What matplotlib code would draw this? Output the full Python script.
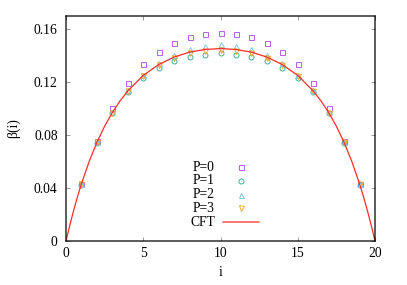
import matplotlib
matplotlib.use("Agg")
import matplotlib.pyplot as plt

# ---- data ----
site = list(range(1, 20))
p0 = [0.0430, 0.0755, 0.1006, 0.1195, 0.1334, 0.1429, 0.1497, 0.1538, 0.1562, 0.1570,
      0.1562, 0.1538, 0.1497, 0.1429, 0.1334, 0.1195, 0.1006, 0.0755, 0.0430]
p1 = [0.0425, 0.0742, 0.0964, 0.1127, 0.1233, 0.1308, 0.1361, 0.1391, 0.1409, 0.1417,
      0.1409, 0.1391, 0.1361, 0.1308, 0.1233, 0.1127, 0.0964, 0.0742, 0.0425]
p2 = [0.0430, 0.0750, 0.0976, 0.1140, 0.1258, 0.1346, 0.1409, 0.1449, 0.1472, 0.1485,
      0.1472, 0.1449, 0.1409, 0.1346, 0.1258, 0.1140, 0.0976, 0.0750, 0.0430]
p3 = [0.0428, 0.0745, 0.0968, 0.1132, 0.1243, 0.1330, 0.1385, 0.1420, 0.1434, 0.1442,
      0.1434, 0.1420, 0.1385, 0.1330, 0.1243, 0.1132, 0.0968, 0.0745, 0.0428]
cft_x = [0, 0.25, 0.5, 0.75, 1, 1.5, 2, 2.5, 3, 3.5, 4, 5, 6, 7, 8, 9, 10,
         11, 12, 13, 14, 15, 16, 16.5, 17, 17.5, 18, 18.5, 19, 19.25, 19.5, 19.75, 20]
cft_y = [0, 0.0121, 0.0233, 0.0337, 0.0432, 0.0601, 0.0745, 0.0867, 0.0971, 0.1059, 0.1134,
         0.1251, 0.1333, 0.1390, 0.1427, 0.1447, 0.1454,
         0.1447, 0.1427, 0.1390, 0.1333, 0.1251, 0.1134, 0.1059, 0.0971, 0.0867, 0.0745,
         0.0601, 0.0432, 0.0337, 0.0233, 0.0121, 0]
labels = ["P=0", "P=1", "P=2", "P=3", "CFT"]
xticks = [0, 5, 10, 15, 20]
yticks = [0, 0.04, 0.08, 0.12, 0.16]
ytick_labels = ["0", "0.04", "0.08", "0.12", "0.16"]

plt.rcParams['font.family'] = ['Liberation Serif', 'DejaVu Serif']
plt.rcParams['path.snap'] = False

fig = plt.figure(figsize=(4.07, 2.85), dpi=100)
ax = fig.add_axes([66/407, 1-241/285, (375-66)/407, (241-16)/285])

colors = ['#b660e0', '#40b090', '#80c8f0', '#eeaa30']
markers = ['s', 'o', '^', 'v']
msize = 3.6
series = [p0, p1, p2, p3]
for s, c, m in zip(series, colors, markers):
    ax.plot(site, s, linestyle='none', marker=m, markersize=msize,
            markerfacecolor='none', markeredgecolor=c, markeredgewidth=0.7)
cft_color = '#ff2a2a'
ax.plot(cft_x, cft_y, color=cft_color, lw=0.9)

ax.set_xlim(0, 20)
ax.set_ylim(0, 0.17)
ax.set_xticks(xticks)
ax.set_xticklabels([str(t) for t in xticks])
ax.set_yticks(yticks)
ax.set_yticklabels(ytick_labels)
ax.tick_params(direction='in', length=3, width=0.6, color='#888888',
               top=True, right=True, labelsize=9.8, pad=4)
ax.tick_params(axis='y', pad=6)
for sp in ax.spines.values():
    sp.set_linewidth(0.9)
ax.set_xlabel('i', fontsize=9.8, labelpad=5)
ax.set_ylabel('β(i)', fontsize=9.8, labelpad=10)

# legend (gnuplot-style: right-aligned text, sample to the right)
row_y = [167.3, 181.0, 194.6, 208.3, 222.0]
for k, lab in enumerate(labels):
    yf = 1 - row_y[k] / 285
    fig.text(215/407, yf, lab, ha='right', va='center', fontsize=9.8)
    if k < 4:
        fig.lines.append(plt.Line2D([241/407], [yf], transform=fig.transFigure,
                                    linestyle='none', marker=markers[k],
                                    markersize=msize, markerfacecolor='none',
                                    markeredgecolor=colors[k],
                                    markeredgewidth=0.7))
    else:
        fig.lines.append(plt.Line2D([223/407, 259/407], [yf, yf],
                                    transform=fig.transFigure,
                                    color=cft_color, lw=0.9))

fig.savefig('out.png', dpi=100)
